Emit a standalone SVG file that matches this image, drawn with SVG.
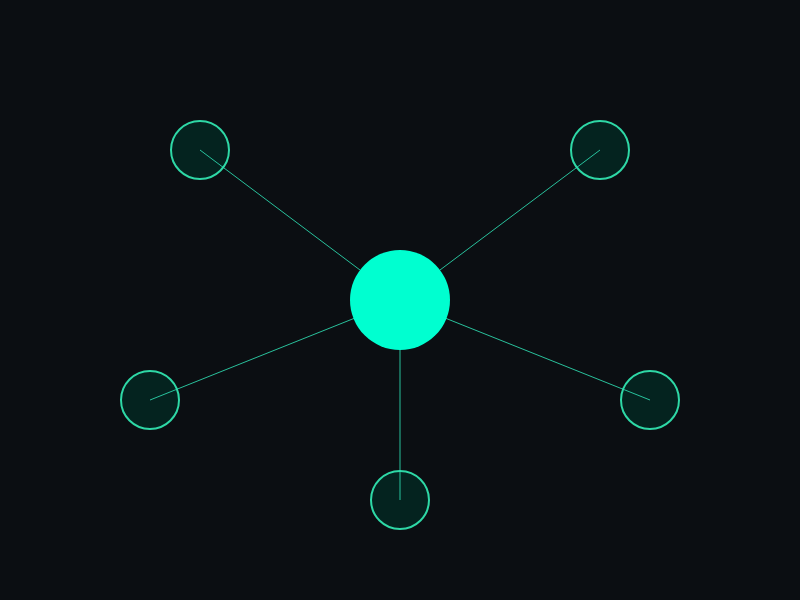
<svg xmlns="http://www.w3.org/2000/svg" width="800" height="600" viewBox="0 0 800 600">
<style>
.link{stroke:#2fe0b4;stroke-width:1;opacity:0.85}
.leaf{fill:#04231f;stroke:#2ed8a6;stroke-width:2}
.hub{fill:#00ffd0}
</style>
<rect width="800" height="600" fill="#0b0e12"/>
<g id="node-1"><circle class="leaf" cx="200" cy="150" r="29"/></g>
<g id="node-2"><circle class="leaf" cx="600" cy="150" r="29"/></g>
<g id="node-3"><circle class="leaf" cx="150" cy="400" r="29"/></g>
<g id="node-4"><circle class="leaf" cx="650" cy="400" r="29"/></g>
<g id="node-5"><circle class="leaf" cx="400" cy="500" r="29"/></g>
<g id="connectors">
<line class="link" x1="400" y1="300" x2="200" y2="150"/>
<line class="link" x1="400" y1="300" x2="600" y2="150"/>
<line class="link" x1="400" y1="300" x2="150" y2="400"/>
<line class="link" x1="400" y1="300" x2="650" y2="400"/>
<line class="link" x1="400" y1="300" x2="400" y2="500"/>
</g>
<g id="hub"><circle class="hub" cx="400" cy="300" r="50"/></g>
</svg>
